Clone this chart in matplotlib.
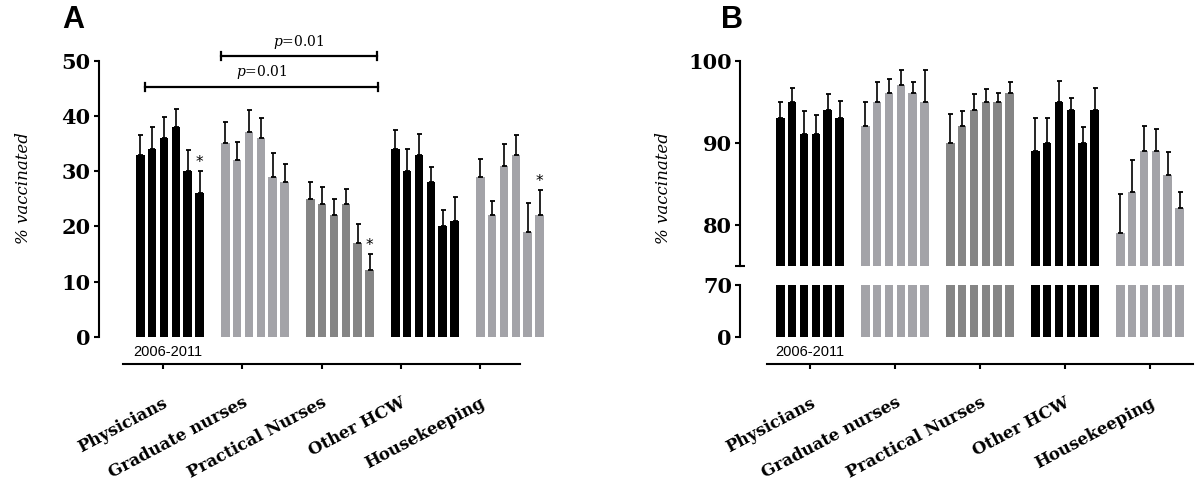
import numpy as np
import matplotlib
matplotlib.use("Agg")
import matplotlib.pyplot as plt

# ---------------- data ----------------
categories = ['Physicians', 'Graduate nurses', 'Practical Nurses', 'Other HCW', 'Housekeeping']
years = [2006, 2007, 2008, 2009, 2010, 2011]
year_label = '2006-2011'

# Panel A (% vaccinated, influenza)
phys_A = [33, 34, 36, 38, 30, 26]
grad_A = [35, 32, 37, 36, 29, 28]
prac_A = [25, 24, 22, 24, 17, 12]
other_A = [34, 30, 33, 28, 20, 21]
house_A = [29, 22, 31, 33, 19, 22]
phys_A_err = [3.5, 4.0, 3.8, 3.2, 3.8, 4.0]
grad_A_err = [3.9, 3.3, 4.1, 3.6, 4.3, 3.2]
prac_A_err = [3.1, 3.2, 2.9, 2.8, 3.5, 2.9]
other_A_err = [3.5, 4.0, 3.7, 2.8, 3.0, 4.3]
house_A_err = [3.2, 2.5, 3.9, 3.6, 5.3, 4.6]
stars_A = [(0, 5), (2, 5), (4, 5)]          # (group, year index) marked with *
pvals_A = ['0.01', '0.01']

# Panel B
phys_B = [93, 95, 91, 91, 94, 93]
grad_B = [92, 95, 96, 97, 96, 95]
prac_B = [90, 92, 94, 95, 95, 96]
other_B = [89, 90, 95, 94, 90, 94]
house_B = [79, 84, 89, 89, 86, 82]
phys_B_err = [2.0, 1.7, 2.9, 2.4, 1.9, 2.1]
grad_B_err = [2.9, 2.4, 1.8, 1.9, 1.4, 3.9]
prac_B_err = [3.5, 1.9, 1.9, 1.6, 1.1, 1.4]
other_B_err = [4.0, 3.0, 2.5, 1.5, 1.9, 2.7]
house_B_err = [4.7, 3.9, 3.0, 2.7, 2.8, 2.0]

vals_A = [phys_A, grad_A, prac_A, other_A, house_A]
errs_A = [phys_A_err, grad_A_err, prac_A_err, other_A_err, house_A_err]
vals_B = [phys_B, grad_B, prac_B, other_B, house_B]
errs_B = [phys_B_err, grad_B_err, prac_B_err, other_B_err, house_B_err]

colors = ['#000000', '#a3a3a8', '#858585', '#000000', '#a3a3a8']

# ---------------- layout ----------------
W, H = 1200, 494
plt.rcParams['mathtext.fontset'] = 'dejavuserif'
fig = plt.figure(figsize=(W / 100, H / 100), dpi=100)

def frac(x0, y_top, x1, y_bot):
    return [x0 / W, 1 - y_bot / H, (x1 - x0) / W, (y_bot - y_top) / H]

GROUP_STEP = 85 / 11.85
BAR_W = 0.72
PX = 11.85          # pixels per x unit
LW = 1.5
tickfont = dict(family='DejaVu Serif', weight='bold', size=15)

def positions(g):
    return g * GROUP_STEP + np.arange(len(years))

def style_y(ax):
    for s in ['top', 'right', 'bottom']:
        ax.spines[s].set_visible(False)
    ax.spines['left'].set_linewidth(LW)
    ax.tick_params(axis='y', length=3.8, width=LW, pad=2, direction='out')
    ax.set_xticks([])
    for lab in ax.get_yticklabels():
        lab.set_fontfamily(tickfont['family'])
        lab.set_fontweight(tickfont['weight'])
        lab.set_fontsize(tickfont['size'])

def draw_bars(ax, vals, errs=None):
    for g, (v, c) in enumerate(zip(vals, colors)):
        x = positions(g)
        ax.bar(x, v, width=BAR_W, color=c, edgecolor='none', zorder=2)
        if errs is not None:
            ax.errorbar(x, v, yerr=[np.zeros(len(v)), errs[g]], fmt='none',
                        ecolor='black', elinewidth=1.2, capsize=1.8, capthick=1.3,
                        zorder=3)

def cat_axis(x0, x1):
    axc = fig.add_axes([x0 / W, 1 - 364 / H, (x1 - x0) / W, 0.01])
    for s in ['top', 'right', 'left']:
        axc.spines[s].set_visible(False)
    axc.spines['bottom'].set_linewidth(LW)
    axc.patch.set_visible(False)
    axc.set_xlim(0, len(categories))
    axc.set_yticks([])
    axc.set_xticks(np.arange(len(categories)) + 0.5)
    axc.set_xticklabels(categories, rotation=28, ha='right', rotation_mode='anchor',
                        family='DejaVu Serif', weight='bold', size=12)
    axc.tick_params(axis='x', length=3.8, width=LW, pad=18)
    return axc

# ---------------- Panel A ----------------
spineA = 98.5
first_center_A = 140.3
axA = fig.add_axes(frac(spineA, 60.7, spineA + 460, 336.7))
axA.set_xlim(-(first_center_A - spineA) / PX, (spineA + 460 - first_center_A) / PX)
axA.set_ylim(0, 50)
axA.set_yticks([0, 10, 20, 30, 40, 50])
draw_bars(axA, vals_A, errs_A)
style_y(axA)
axA.patch.set_visible(False)

for g, j in stars_A:
    x = positions(g)[j]
    top = vals_A[g][j] + errs_A[g][j]
    axA.text(x, top + 0.2, '*', ha='center', va='bottom', fontsize=11,
             family='DejaVu Sans')

def bracket(ax, x0, x1, y, label, h=0.75):
    ax.plot([x0, x1], [y, y], color='black', lw=1.6, clip_on=False, zorder=4)
    ax.plot([x0, x0], [y - h, y + h], color='black', lw=1.6, clip_on=False, zorder=4)
    ax.plot([x1, x1], [y - h, y + h], color='black', lw=1.6, clip_on=False, zorder=4)
    ax.text((x0 + x1) / 2, y + 1.0, r'$\mathit{p}$=' + label, ha='center', va='bottom',
            fontsize=10, family='DejaVu Serif', clip_on=False)

xa = positions(0)[0] + BAR_W / 2
xb = positions(2)[-1] + 0.75
bracket(axA, xa, xb, 45.3, pvals_A[0])
bracket(axA, positions(1)[0] - BAR_W / 2, positions(2)[-1] + 0.6, 50.8, pvals_A[1])

cat_axis(123, 520)
fig.text(167.5 / W, 1 - 352 / H, year_label, ha='center', va='center',
         fontsize=10.5, family='Liberation Sans')
fig.text(24 / W, 1 - 188 / H, '% vaccinated', rotation=90, ha='center', va='center',
         fontsize=12, family='DejaVu Serif', style='italic')
fig.text(62 / W, 1 - 5 / H, 'A', ha='left', va='top', fontsize=22,
         fontweight='bold', family='Liberation Sans')

# ---------------- Panel B ----------------
spineB = 740
first_center_B = 780.3
xlimB = (-(first_center_B - spineB) / PX, (spineB + 460 - first_center_B) / PX)

axB_up = fig.add_axes(frac(spineB, 60.7, spineB + 460, 265.5))
axB_up.set_xlim(*xlimB)
axB_up.set_ylim(75, 100)
axB_up.set_yticks([80, 90, 100])
draw_bars(axB_up, vals_B, errs_B)
style_y(axB_up)
axB_up.set_yticks([75], minor=True)
axB_up.tick_params(axis='y', which='minor', direction='inout', length=6.5, width=LW)
axB_up.patch.set_visible(False)

axB_lo = fig.add_axes(frac(spineB, 285, spineB + 460, 336.7))
axB_lo.set_xlim(*xlimB)
axB_lo.set_ylim(0, 70)
axB_lo.set_yticks([0, 70])
draw_bars(axB_lo, vals_B)
style_y(axB_lo)
axB_lo.set_yticks([70], minor=True)
axB_lo.tick_params(axis='y', which='minor', direction='in', length=2.5, width=LW)
axB_lo.patch.set_visible(False)

cat_axis(767.5, 1192.5)
fig.text(809.5 / W, 1 - 352 / H, year_label, ha='center', va='center',
         fontsize=10.5, family='Liberation Sans')
fig.text(663 / W, 1 - 188 / H, '% vaccinated', rotation=90, ha='center', va='center',
         fontsize=12, family='DejaVu Serif', style='italic')
fig.text(721 / W, 1 - 5 / H, 'B', ha='left', va='top', fontsize=22,
         fontweight='bold', family='Liberation Sans')

fig.savefig('out.png', dpi=100, facecolor='white')
